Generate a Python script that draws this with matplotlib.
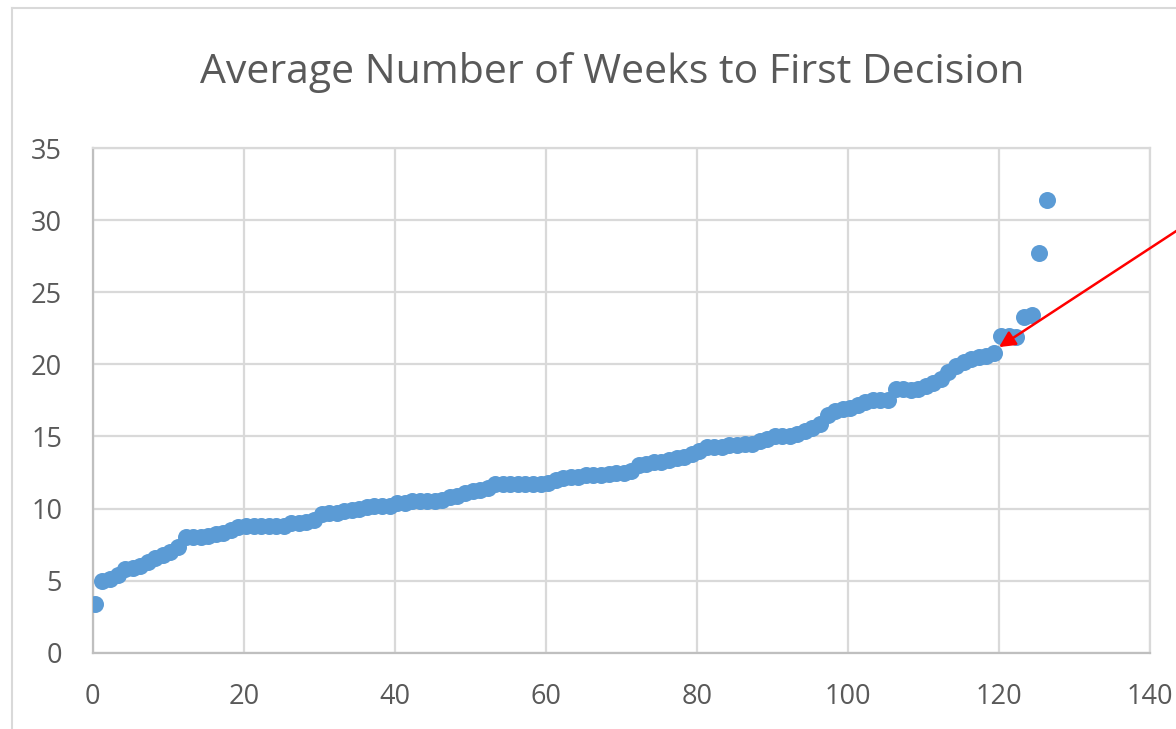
import numpy as np
import matplotlib
matplotlib.use("Agg")
import matplotlib.pyplot as plt

# average weeks to first decision, sorted ascending
weeks = [3.4, 5.0, 5.1, 5.4, 5.8, 5.9, 6.0, 6.3, 6.6, 6.8,
         7.0, 7.3, 8.0, 8.0, 8.0, 8.1, 8.2, 8.3, 8.5, 8.7,
         8.8, 8.8, 8.8, 8.8, 8.8, 8.8, 9.0, 9.0, 9.1, 9.2,
         9.6, 9.7, 9.7, 9.8, 9.9, 10.0, 10.1, 10.2, 10.2, 10.2,
         10.4, 10.4, 10.5, 10.5, 10.5, 10.5, 10.6, 10.8, 10.9, 11.1,
         11.2, 11.3, 11.4, 11.7, 11.7, 11.7, 11.7, 11.7, 11.7, 11.7,
         11.8, 12.0, 12.1, 12.2, 12.2, 12.3, 12.3, 12.3, 12.4, 12.5,
         12.5, 12.6, 13.0, 13.1, 13.2, 13.2, 13.4, 13.5, 13.6, 13.8,
         14.0, 14.3, 14.3, 14.3, 14.4, 14.4, 14.5, 14.5, 14.7, 14.8,
         15.0, 15.0, 15.0, 15.2, 15.4, 15.6, 15.9, 16.5, 16.8, 16.9,
         17.0, 17.2, 17.4, 17.5, 17.5, 17.5, 18.3, 18.3, 18.2, 18.3,
         18.5, 18.7, 19.0, 19.5, 19.9, 20.2, 20.4, 20.5, 20.6, 20.8,
         22.0, 22.0, 21.9, 23.3, 23.4, 27.7, 31.4]
rank = np.arange(len(weeks)) + 0.3

x_ticks = [0, 20, 40, 60, 80, 100, 120, 140]
y_ticks = [0, 5, 10, 15, 20, 25, 30, 35]
title = "Average Number of Weeks to First Decision"

arrow_tip = (120.0, 21.2)
arrow_tail = (150.0, 31.5)

plt.rcParams['font.family'] = ['Open Sans', 'DejaVu Sans']
txt_col = '#595959'
grid_col = '#d9d9d9'

fig = plt.figure(figsize=(11.76, 7.29), dpi=100)
ax = fig.add_axes([0.0788, 0.1047, 0.8992, 0.692])

ax.scatter(rank, weeks, s=150, color='#5b9bd5', zorder=3, linewidths=0)

ax.set_xlim(0, 140)
ax.set_ylim(0, 35)
ax.set_xticks(x_ticks)
ax.set_yticks(y_ticks)
ax.grid(True, color=grid_col, lw=1.6, zorder=0)
ax.set_axisbelow(True)
for side in ['top', 'right']:
    ax.spines[side].set_color(grid_col)
    ax.spines[side].set_linewidth(1.6)
for side in ['left', 'bottom']:
    ax.spines[side].set_color('#bfbfbf')
    ax.spines[side].set_linewidth(1.6)
ax.tick_params(length=0, labelsize=19.5, labelcolor=txt_col)
ax.tick_params(axis='x', pad=22)
ax.tick_params(axis='y', pad=22)

ax.annotate('', xy=arrow_tip, xytext=arrow_tail, annotation_clip=False,
            arrowprops=dict(arrowstyle='-|>', color='red', lw=1.8,
                            mutation_scale=24, shrinkA=0, shrinkB=0))

fig.text(612 / 1176, 0.886, title, ha='center', va='baseline',
         fontsize=29.5, color=txt_col)

# chart frame (left and top edges visible)
fig.add_artist(plt.Line2D([12 / 1176, 12 / 1176], [0, 1 - 8 / 729],
                          transform=fig.transFigure, color=grid_col, lw=1.5))
fig.add_artist(plt.Line2D([12 / 1176, 1], [1 - 8 / 729, 1 - 8 / 729],
                          transform=fig.transFigure, color=grid_col, lw=1.5))

fig.savefig('out.png', dpi=100)
